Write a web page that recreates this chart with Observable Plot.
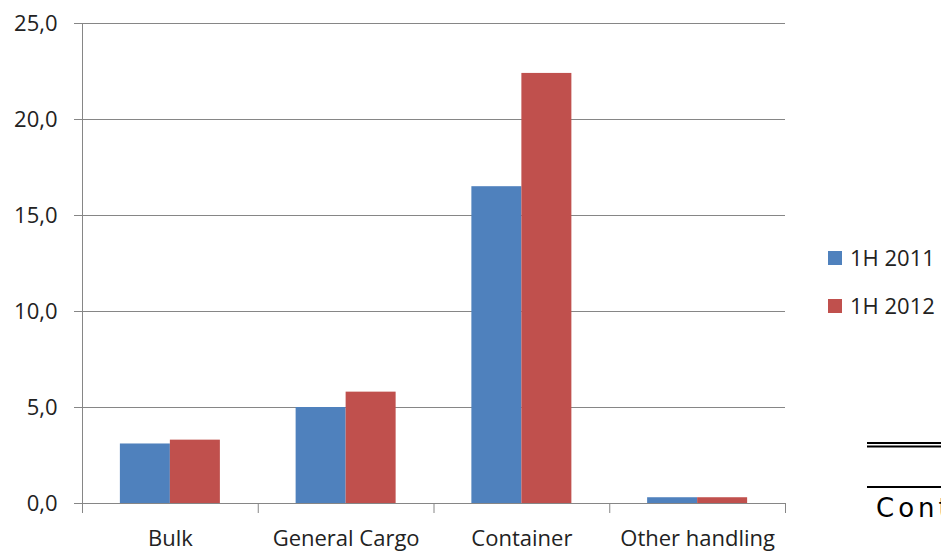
<!DOCTYPE html>
<html>
<head>
<meta charset="utf-8">
<script src="https://cdn.jsdelivr.net/npm/d3@7"></script>
<script src="https://cdn.jsdelivr.net/npm/@observablehq/plot@0.6"></script>
<style>
  html, body { margin: 0; padding: 0; background: #fff; }
  #wrap { position: relative; width: 941px; height: 551px; overflow: hidden; }
  #wrap svg.overlay { position: absolute; left: 0; top: 0; }
</style>
</head>
<body>
<div id="wrap"></div>
<script>
const categories = ["Bulk", "General Cargo", "Container", "Other handling"];
const seriesNames = ["1H 2011", "1H 2012"];
const values2011 = [3.1, 5.0, 16.5, 0.3];
const values2012 = [3.3, 5.8, 22.4, 0.3];
const yTicks = [0, 5, 10, 15, 20, 25];
const colors = ["#4F81BD", "#C0504D"];

const W = 941, H = 551;
const mL = 82, mR = 156, mT = 23, mB = 48;
const bw = (W - mL - mR) / categories.length;
const barW = 50;
const outer = (bw - 2 * barW) / 2;
const gray = "#868686";
const textColor = "#222";

const rows = [];
categories.forEach((c, i) => {
  rows.push({category: c, series: seriesNames[0], value: values2011[i]});
  rows.push({category: c, series: seriesNames[1], value: values2012[i]});
});

const plot = Plot.plot({
  width: W,
  height: H,
  marginLeft: mL,
  marginRight: mR,
  marginTop: mT,
  marginBottom: mB,
  style: {fontFamily: "'Open Sans', sans-serif", fontSize: "22px", color: textColor, background: "#fff"},
  x: {domain: categories, padding: 0, round: false, axis: null},
  y: {domain: [0, 25], axis: null},
  color: {domain: seriesNames, range: colors},
  marks: [
    Plot.gridY(yTicks, {stroke: gray, strokeOpacity: 1, strokeWidth: 1}),
    Plot.axisY({ticks: yTicks, tickSize: 8, tickPadding: 17, stroke: gray, strokeOpacity: 1, fill: textColor,
      tickFormat: d => d.toFixed(1).replace(".", ","), label: null}),
    Plot.ruleX([categories[0]], {dx: -bw / 2, stroke: gray}),
    Plot.barY(rows.filter(r => r.series === seriesNames[0]), {
      x: "category", y: "value", fill: "series", insetLeft: outer, insetRight: outer + barW
    }),
    Plot.barY(rows.filter(r => r.series === seriesNames[1]), {
      x: "category", y: "value", fill: "series", insetLeft: outer + barW, insetRight: outer
    }),
    Plot.axisX({ticks: categories, tickSize: 10, tickFormat: () => "", dx: -bw / 2, stroke: gray, strokeOpacity: 1, label: null}),
    Plot.axisX({ticks: [categories[categories.length - 1]], tickSize: 10, tickFormat: () => "", dx: bw / 2, stroke: gray, strokeOpacity: 1, label: null}),
    Plot.axisX({ticks: categories, tickSize: 0, tickPadding: 27, fill: textColor, label: null})
  ]
});

const wrap = document.getElementById("wrap");
wrap.appendChild(plot);

// Legend + cropped fragment at bottom right
const ov = d3.select(wrap).append("svg")
  .attr("class", "overlay")
  .attr("width", W).attr("height", H);

seriesNames.forEach((name, i) => {
  const y0 = 251 + i * 48;
  ov.append("rect").attr("x", 828).attr("y", y0).attr("width", 14).attr("height", 14).attr("fill", colors[i]);
  ov.append("text").attr("x", 850).attr("y", y0 + 15)
    .attr("font-family", "'Open Sans', sans-serif").attr("font-size", 22).attr("fill", textColor)
    .text(name);
});

ov.append("rect").attr("x", 867).attr("y", 442).attr("width", 80).attr("height", 2).attr("fill", "#000");
ov.append("rect").attr("x", 867).attr("y", 445.5).attr("width", 80).attr("height", 2).attr("fill", "#000");
ov.append("rect").attr("x", 867).attr("y", 486).attr("width", 80).attr("height", 2).attr("fill", "#000");
ov.append("text").attr("x", 876).attr("y", 517)
  .attr("font-family", "'DejaVu Sans', sans-serif").attr("font-size", 26)
  .attr("letter-spacing", 4).attr("fill", "#000")
  .text("Container");
</script>
</body>
</html>
